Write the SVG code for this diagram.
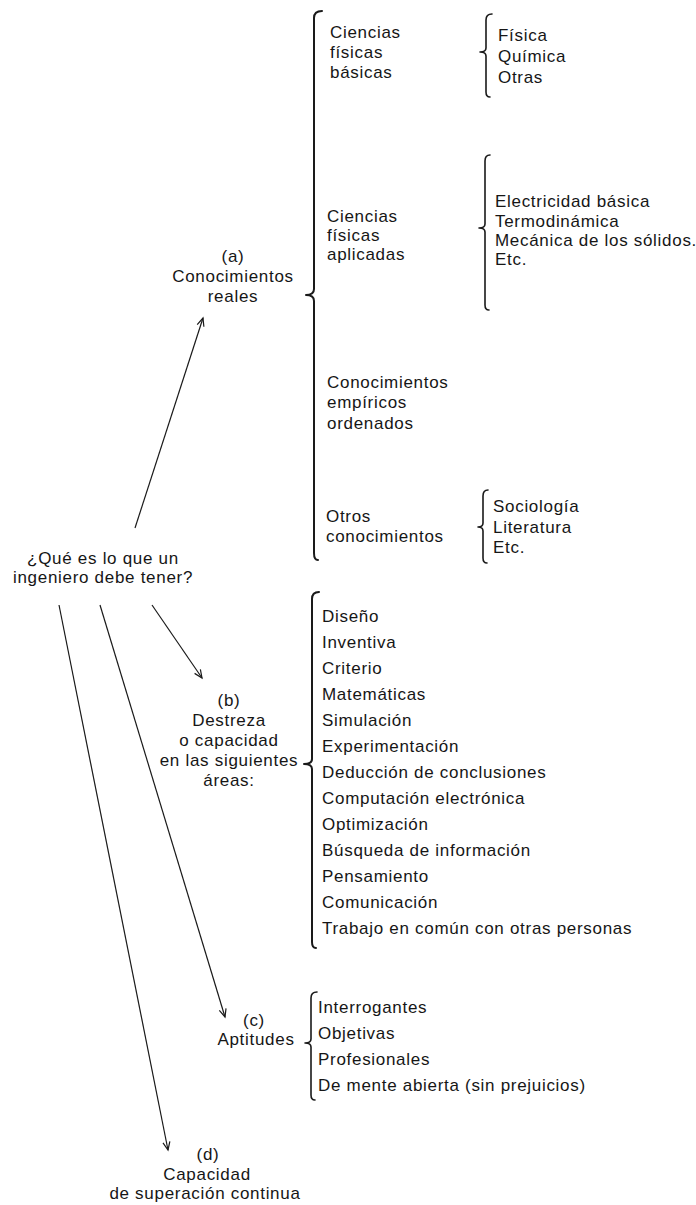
<svg xmlns="http://www.w3.org/2000/svg" width="696" height="1205" viewBox="0 0 696 1205">
<style>
text{font-family:"Liberation Sans",Arial,sans-serif;font-size:17px;letter-spacing:0.7px;fill:#161616}
.c{text-anchor:middle}
.brace{fill:none;stroke:#1a1a1a;stroke-width:1.6;stroke-linecap:round;stroke-linejoin:round}
.big{stroke-width:2}
.conn{fill:none;stroke:#1a1a1a;stroke-width:1.2}
</style>
<defs>
<marker id="ah" viewBox="-10 -6 12 12" markerWidth="12" markerHeight="12" refX="0" refY="0" orient="auto" markerUnits="userSpaceOnUse">
<path d="M-8,-3.5 L0,0 L-8,3.5" fill="none" stroke="#1a1a1a" stroke-width="1.2"/>
</marker>
</defs>
<rect width="696" height="1205" fill="#fff"/>

<g id="connectors">
<line class="conn" x1="135" y1="528" x2="203" y2="318" marker-end="url(#ah)"/>
<line class="conn" x1="152" y1="605" x2="202" y2="678" marker-end="url(#ah)"/>
<line class="conn" x1="100" y1="605" x2="225" y2="1017" marker-end="url(#ah)"/>
<line class="conn" x1="59" y1="605" x2="168" y2="1150" marker-end="url(#ah)"/>
</g>

<g id="question">
<text class="c" x="103" y="564">¿Qué es lo que un</text>
<text class="c" x="103" y="583">ingeniero debe tener?</text>
</g>

<g id="a-label">
<text class="c" x="233" y="262">(a)</text>
<text class="c" x="233" y="282">Conocimientos</text>
<text class="c" x="233" y="302">reales</text>
</g>
<g id="a-brace">
<path class="brace big" d="M322,11 Q314,11 314,18 L314,289 Q314,295 306,295 Q314,295 314,301 L314,553 Q314,560 318,560"/>
</g>

<g id="ciencias-basicas">
<text x="330" y="38">Ciencias</text>
<text x="330" y="58">físicas</text>
<text x="330" y="78">básicas</text>
<path class="brace" d="M492,14 Q486,14 486,20 L486,48 Q486,52 480,52 Q486,52 486,56 L486,92 Q486,97 490,97"/>
<text x="498" y="41">Física</text>
<text x="498" y="62">Química</text>
<text x="498" y="83">Otras</text>
</g>

<g id="ciencias-aplicadas">
<text x="327" y="222">Ciencias</text>
<text x="327" y="241">físicas</text>
<text x="327" y="260">aplicadas</text>
<path class="brace" d="M490,155 Q485,155 485,161 L485,224 Q485,228 479,228 Q485,228 485,232 L485,305 Q485,310 489,310"/>
<text x="495" y="207">Electricidad básica</text>
<text x="495" y="227">Termodinámica</text>
<text x="495" y="246">Mecánica de los sólidos.</text>
<text x="495" y="265">Etc.</text>
</g>

<g id="empiricos">
<text x="327" y="388">Conocimientos</text>
<text x="327" y="408">empíricos</text>
<text x="327" y="429">ordenados</text>
</g>

<g id="otros">
<text x="326" y="522">Otros</text>
<text x="326" y="542">conocimientos</text>
<path class="brace" d="M488,490 Q483,490 483,496 L483,523 Q483,527 478,527 Q483,527 483,531 L483,558 Q483,563 487,563"/>
<text x="493" y="512">Sociología</text>
<text x="493" y="533">Literatura</text>
<text x="493" y="553">Etc.</text>
</g>

<g id="b-label">
<text class="c" x="229" y="706">(b)</text>
<text class="c" x="229" y="726">Destreza</text>
<text class="c" x="229" y="746">o capacidad</text>
<text class="c" x="229" y="766">en las siguientes</text>
<text class="c" x="229" y="786">áreas:</text>
</g>
<g id="b-list">
<path class="brace big" d="M319,592 Q312,592 312,599 L312,759 Q312,764 304,764 Q312,764 312,769 L312,942 Q312,948 316,948"/>
<text x="322" y="622">Diseño</text>
<text x="322" y="648">Inventiva</text>
<text x="322" y="674">Criterio</text>
<text x="322" y="700">Matemáticas</text>
<text x="322" y="726">Simulación</text>
<text x="322" y="752">Experimentación</text>
<text x="322" y="778">Deducción de conclusiones</text>
<text x="322" y="804">Computación electrónica</text>
<text x="322" y="830">Optimización</text>
<text x="322" y="856">Búsqueda de información</text>
<text x="322" y="882">Pensamiento</text>
<text x="322" y="908">Comunicación</text>
<text x="322" y="934">Trabajo en común con otras personas</text>
</g>

<g id="c-label">
<text class="c" x="254" y="1026">(c)</text>
<text class="c" x="256" y="1045">Aptitudes</text>
</g>
<g id="c-list">
<path class="brace" d="M317,992 Q311,992 311,998 L311,1039 Q311,1043 305,1043 Q311,1043 311,1047 L311,1095 Q311,1100 315,1100"/>
<text x="318" y="1013">Interrogantes</text>
<text x="318" y="1039">Objetivas</text>
<text x="318" y="1065">Profesionales</text>
<text x="318" y="1091">De mente abierta (sin prejuicios)</text>
</g>

<g id="d-label">
<text class="c" x="208" y="1160">(d)</text>
<text class="c" x="207" y="1180">Capacidad</text>
<text class="c" x="205" y="1199">de superación continua</text>
</g>
</svg>
